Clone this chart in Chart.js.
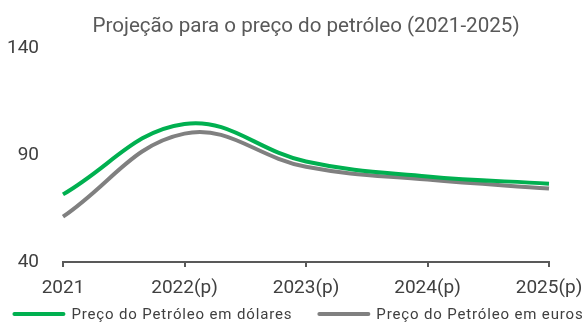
<!DOCTYPE html>
<html>
<head>
<meta charset="utf-8">
<script src="https://cdn.jsdelivr.net/npm/chart.js@4"></script>
<style>
  html, body { margin: 0; padding: 0; background: #fff; }
  #wrap { width: 584px; height: 322px; }
</style>
</head>
<body>
<div id="wrap"><canvas id="c" width="584" height="322"></canvas></div>
<script>
const categories = ['2021', '2022(p)', '2023(p)', '2024(p)', '2025(p)'];
const precoDolares = [71.6, 104.5, 87.0, 80.0, 76.6];
const precoEuros = [61.2, 100.0, 84.5, 78.5, 74.3];
const yTicks = [40, 90, 140];

const FONT = 'Roboto, "Noto Sans", sans-serif';
const TITLE = 'Projeção para o preço do petróleo (2021-2025)';

// Title centred over the plot area, legend with line swatches along the bottom edge
const decorations = {
  id: 'decorations',
  afterDraw(chart) {
    const ctx = chart.ctx;
    const area = chart.chartArea;
    ctx.save();

    ctx.fillStyle = '#595959';
    ctx.font = '20.6px ' + FONT;
    ctx.textAlign = 'center';
    ctx.textBaseline = 'alphabetic';
    ctx.fillText(TITLE, (area.left + area.right) / 2, 32);

    ctx.font = '15px ' + FONT;
    ctx.letterSpacing = '0.85px';
    ctx.textAlign = 'left';
    const swatch = 53, gapText = 6, gapItem = 25;
    const items = chart.data.datasets.map(ds => ({
      text: ds.label, color: ds.borderColor, w: ctx.measureText(ds.label).width
    }));
    const total = items.reduce((s, it) => s + swatch + gapText + it.w, 0) + gapItem * (items.length - 1);
    let x = chart.width / 2 + 6 - total / 2;
    const yLine = 314, yText = 319;
    items.forEach(it => {
      ctx.strokeStyle = it.color;
      ctx.lineWidth = 4;
      ctx.lineCap = 'round';
      ctx.beginPath();
      ctx.moveTo(x + 2, yLine);
      ctx.lineTo(x + swatch - 2, yLine);
      ctx.stroke();
      ctx.fillStyle = '#404040';
      ctx.fillText(it.text, x + swatch + gapText, yText);
      x += swatch + gapText + it.w + gapItem;
    });
    ctx.restore();
  }
};

new Chart(document.getElementById('c'), {
  type: 'line',
  data: {
    labels: categories,
    datasets: [
      {
        label: 'Preço do Petróleo em dólares',
        data: precoDolares,
        borderColor: '#00b050',
        backgroundColor: '#00b050',
        borderWidth: 4,
        pointRadius: 0,
        tension: 0.4
      },
      {
        label: 'Preço do Petróleo em euros',
        data: precoEuros,
        borderColor: '#808080',
        backgroundColor: '#808080',
        borderWidth: 4,
        pointRadius: 0,
        tension: 0.4
      }
    ]
  },
  options: {
    responsive: false,
    animation: false,
    layout: { padding: { left: 0, right: 35, top: 48, bottom: 0 } },
    plugins: {
      title: { display: false },
      legend: { display: false },
      tooltip: { enabled: false }
    },
    scales: {
      x: {
        afterFit: (axis) => {
          axis.height = 60;
          axis.paddingLeft = 0;
          axis.paddingRight = 0;
        },
        grid: {
          display: true,
          drawOnChartArea: false,
          drawTicks: true,
          tickLength: 5,
          color: '#595959',
          lineWidth: 2
        },
        border: { display: true, color: '#595959', width: 2 },
        ticks: {
          color: '#404040',
          font: { family: FONT, size: 19 },
          padding: 10,
          maxRotation: 0
        }
      },
      y: {
        min: 40,
        max: 140,
        afterBuildTicks: (axis) => { axis.ticks = yTicks.map(v => ({ value: v })); },
        afterFit: (axis) => { axis.width = 63; },
        grid: { display: false },
        border: { display: false },
        ticks: {
          color: '#404040',
          font: { family: FONT, size: 19 },
          padding: 16
        }
      }
    }
  },
  plugins: [decorations]
});
</script>
</body>
</html>
